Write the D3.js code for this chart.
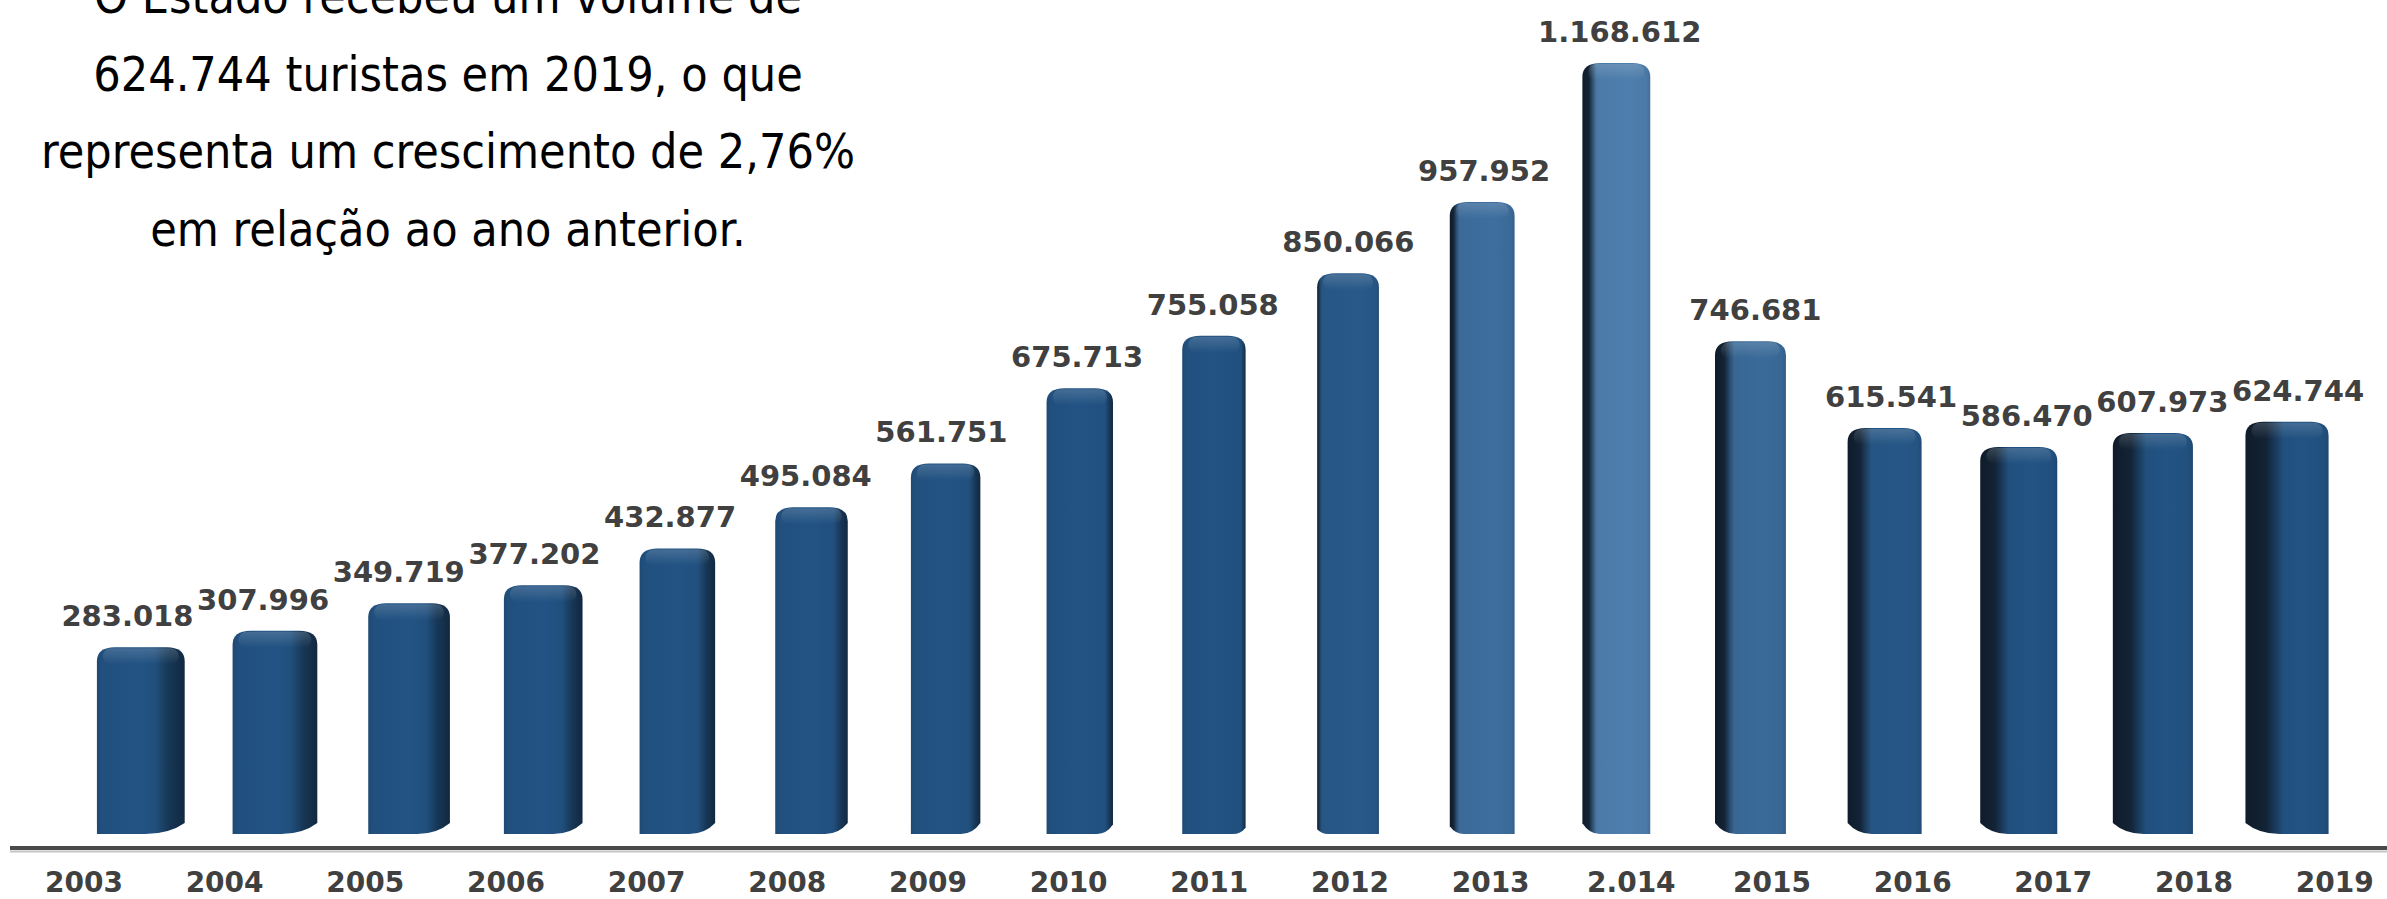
<!DOCTYPE html>
<html>
<head>
<meta charset="utf-8">
<script src="https://cdn.jsdelivr.net/npm/d3@7"></script>
<style>
  html, body { margin: 0; padding: 0; background: #ffffff; overflow: hidden; }
  svg { display: block; }
</style>
</head>
<body>
<svg id="chart" width="2387" height="899"></svg>
<script>
// ---------------- DATA ----------------
const years = ["2003","2004","2005","2006","2007","2008","2009","2010","2011","2012","2013","2.014","2015","2016","2017","2018","2019"];
const visitors = [283018, 307996, 349719, 377202, 432877, 495084, 561751, 675713, 755058, 850066, 957952, 1168612, 746681, 615541, 586470, 607973, 624744];
const introLines = [
  "O Estado recebeu um volume de",
  "624.744 turistas em 2019, o que",
  "representa um crescimento de 2,76%",
  "em relação ao ano anterior."
];

// ---------------- LAYOUT ----------------
const W = 2387, H = 899;
const svg = d3.select("#chart");
const defs = svg.append("defs");

const ptBR = d3.formatLocale({ decimal: ",", thousands: ".", grouping: [3], currency: ["R$ ", ""] });
const fmt = ptBR.format(",d");

// floor (front) band scale: axis labels
const xAxisScale = d3.scaleBand().domain(years).range([13.6, 2405]);
// back (bar) band scale: perspective-compressed toward the vanishing point
const xBar = d3.scaleBand().domain(years).range([59.6, 2365.9]).paddingInner(0.55).paddingOuter(0.275);
const y = d3.scaleLinear().domain([0, d3.max(visitors)]).range([834, 63]);

const vp = 1316;      // horizontal vanishing point
const sideK = 0.0225; // side-face width per px of distance to vp

const baseCol = d3.rgb("#21507e");
const lightCol = d3.rgb("#4b7aa7");

const data = years.map((yr, i) => ({ year: yr, value: visitors[i], i }));

// ---------------- BARS ----------------
function barGeom(d) {
  const fx0 = xBar(d.year), bw = xBar.bandwidth(), fx1 = fx0 + bw;
  const fc = fx0 + bw / 2;
  const s = sideK * Math.abs(fc - vp);
  const right = fc < vp; // side face on the right
  const x0 = right ? fx0 : fx0 - s;
  const x1 = right ? fx1 + s : fx1;
  return { fx0, fx1, fc, s, right, x0, x1, top: y(d.value), base: y(0) };
}

function barPath(g) {
  const { x0, x1, top, base, s, right } = g;
  const rx = 18, ry = 14;
  const rise = Math.min(11, 4 + s);
  const run = 10 + s * 1.1;
  const p = d3.path();
  if (right) {
    p.moveTo(x0, base);
    p.lineTo(x0, top + ry);
    p.quadraticCurveTo(x0, top, x0 + rx, top);
    p.lineTo(x1 - rx, top);
    p.quadraticCurveTo(x1, top, x1, top + ry);
    p.lineTo(x1, base - rise);
    p.quadraticCurveTo(x1 - run * 0.4, base, x1 - run, base);
    p.closePath();
  } else {
    p.moveTo(x1, base);
    p.lineTo(x1, top + ry);
    p.quadraticCurveTo(x1, top, x1 - rx, top);
    p.lineTo(x0 + rx, top);
    p.quadraticCurveTo(x0, top, x0, top + ry);
    p.lineTo(x0, base - rise);
    p.quadraticCurveTo(x0 + run * 0.4, base, x0 + run, base);
    p.closePath();
  }
  return p.toString();
}

data.forEach(d => {
  const g = barGeom(d);
  d.g = g;
  const wgt = Math.exp(-Math.pow((g.fc - 1610) / 185, 2));
  const cc = d3.rgb(d3.interpolateRgb(baseCol, lightCol)(wgt));
  const w = g.x1 - g.x0;
  const f = g.s / w;
  const grad = defs.append("linearGradient").attr("id", "bg" + d.i)
    .attr("x1", 0).attr("x2", 1).attr("y1", 0).attr("y2", 0);
  let stops;
  if (g.right) {
    stops = [
      [0, cc.darker(0.25)],
      [0.06, cc],
      [0.5, cc.brighter(0.12)],
      [Math.max(0.55, 1 - f - 0.04), cc],
      [1 - f * 0.6, d3.interpolateRgb(cc, "#0f2236")(0.55)],
      [1, "#122840"]
    ];
  } else {
    stops = [
      [0, "#0f1b29"],
      [Math.min(0.4, f * 0.95), "#132436"],
      [Math.min(0.47, f * 1.3 + 0.03), d3.interpolateRgb(cc, "#132436")(0.4)],
      [Math.min(0.52, f * 1.5 + 0.06), cc],
      [0.68, cc.brighter(0.1)],
      [0.94, cc],
      [1, cc.darker(0.3)]
    ];
  }
  stops.forEach(([o, col]) => grad.append("stop").attr("offset", o).attr("stop-color", d3.rgb(col).formatHex()));
});

// top bevel highlight gradient
const tg = defs.append("linearGradient").attr("id", "topHi").attr("x1", 0).attr("x2", 0).attr("y1", 0).attr("y2", 1);
tg.append("stop").attr("offset", 0).attr("stop-color", "#ffffff").attr("stop-opacity", 0.16);
tg.append("stop").attr("offset", 1).attr("stop-color", "#ffffff").attr("stop-opacity", 0);

const bars = svg.append("g").attr("class", "bars");
bars.selectAll("path.bar")
  .data(data)
  .join("path")
  .attr("class", "bar")
  .attr("d", d => barPath(d.g))
  .attr("fill", d => `url(#bg${d.i})`);

// subtle bevel on top of each bar
bars.selectAll("rect.hi")
  .data(data)
  .join("rect")
  .attr("class", "hi")
  .attr("x", d => d.g.x0 + 6)
  .attr("y", d => d.g.top + 1)
  .attr("width", d => d.g.x1 - d.g.x0 - 12)
  .attr("height", 16)
  .attr("rx", 8)
  .attr("fill", "url(#topHi)");

// ---------------- AXIS ----------------
svg.append("line")
  .attr("x1", 10).attr("x2", W).attr("y1", 851.5).attr("y2", 851.5)
  .attr("stroke", "#c4c4c4").attr("stroke-width", 2);

const axis = d3.axisBottom(xAxisScale).tickSize(0).tickSizeOuter(0).tickPadding(24);
const axG = svg.append("g").attr("transform", "translate(0,848)").call(axis);
axG.select(".domain")
  .attr("d", `M10,0H${W}`)
  .attr("stroke", "#4a4a4a").attr("stroke-width", 4);
axG.selectAll(".tick text")
  .attr("fill", "#404040")
  .style("font-family", "'DejaVu Sans', Verdana, sans-serif")
  .style("font-weight", "bold")
  .style("font-size", "28px");

// ---------------- VALUE LABELS ----------------
svg.append("g").selectAll("text")
  .data(data)
  .join("text")
  .attr("x", d => d.g.fc)
  .attr("y", d => d.g.top - 21)
  .attr("text-anchor", "middle")
  .attr("fill", "#404040")
  .style("font-family", "'DejaVu Sans', Verdana, sans-serif")
  .style("font-weight", "bold")
  .style("font-size", "29px")
  .text(d => fmt(d.value));

// ---------------- INTRO TEXT ----------------
svg.append("g").selectAll("text")
  .data(introLines)
  .join("text")
  .attr("x", 448)
  .attr("y", (d, i) => 13 + i * 77.5)
  .attr("text-anchor", "middle")
  .attr("fill", "#000000")
  .style("font-family", "'DejaVu Sans Condensed', 'DejaVu Sans', sans-serif")
  .style("font-stretch", "condensed")
  .style("font-size", "48px")
  .text(d => d);
</script>
</body>
</html>
